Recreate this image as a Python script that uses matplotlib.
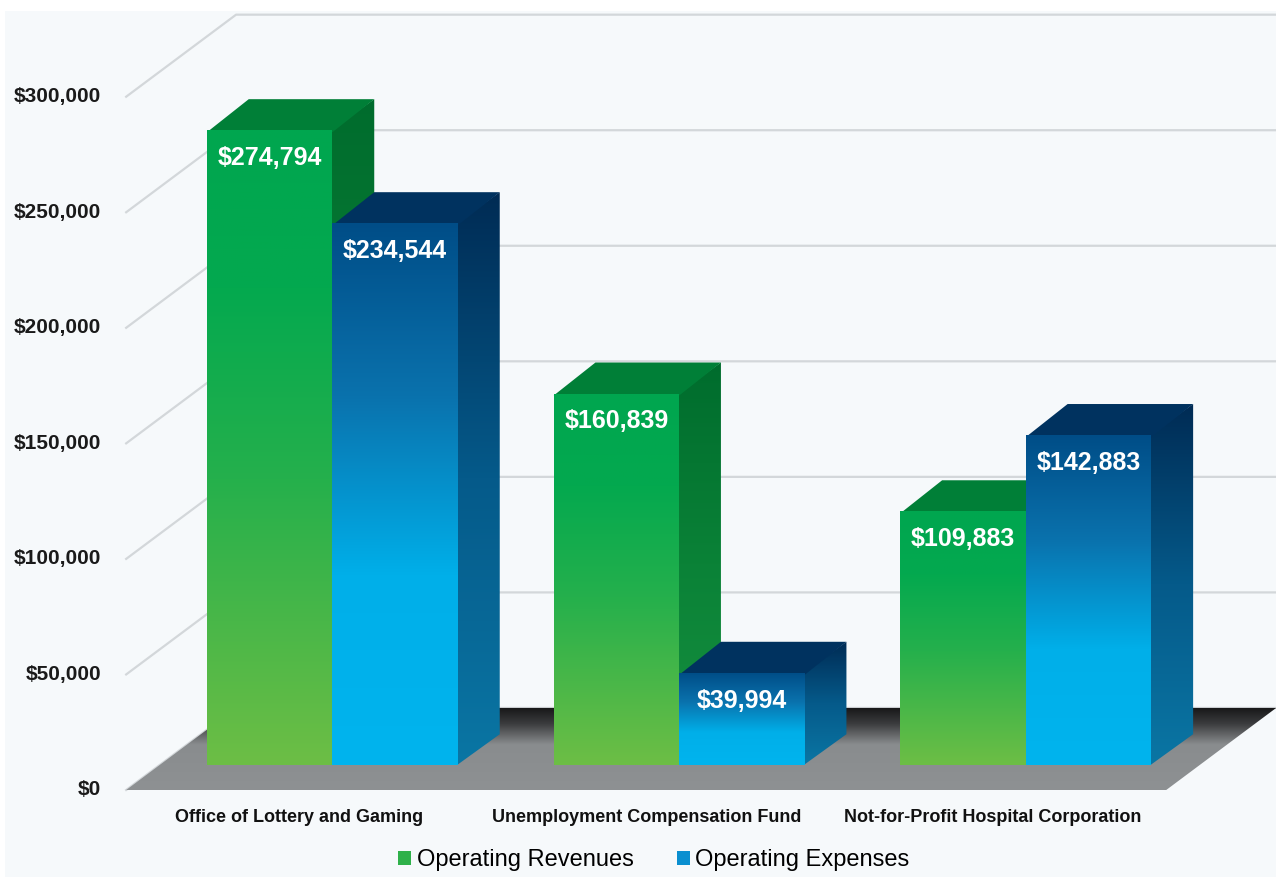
import numpy as np
import matplotlib.pyplot as plt
from matplotlib.patches import Polygon, Rectangle, Patch
from matplotlib.colors import LinearSegmentedColormap

categories = ['Office of Lottery and Gaming', 'Unemployment Compensation Fund',
              'Not-for-Profit Hospital Corporation']
revenues = [274794, 160839, 109883]
expenses = [234544, 39994, 142883]
yticks = [0, 50000, 100000, 150000, 200000, 250000, 300000]
series_names = ['Operating Revenues', 'Operating Expenses']

plt.rcParams['font.family'] = ['Liberation Sans Narrow', 'Liberation Sans', 'DejaVu Sans']

# oblique "3d" look: one unit of depth shifts right (categories) and up (dollars)
DX = 0.317
DV = 35500
BAR_W = 0.362
D0, D1 = 0.30, 0.68   # front / back of the bars inside the floor
EPS = 0.004           # small overlap so faces don't leave seams

green_front = LinearSegmentedColormap.from_list(
    'gf', [(0, '#6dbe45'), (0.45, '#25b04c'), (0.75, '#04a94f'), (1, '#00a64f')])
green_side = LinearSegmentedColormap.from_list('gs', ['#17903f', '#0a8237', '#006c2d'])
blue_front = LinearSegmentedColormap.from_list(
    'bf', [(0, '#00b4ee'), (0.35, '#00afe9'), (0.68, '#0a72ad'), (1, '#004d87')])
blue_side = LinearSegmentedColormap.from_list('bs', ['#0a76a4', '#055a8a', '#002b54'])
floor_cmap = LinearSegmentedColormap.from_list(
    'fl', [(0, '#8e9193'), (0.55, '#898c8e'), (0.8, '#3b3c3e'), (1, '#161617')])


def proj(x, v, d):
    return (x + d * DX, v + d * DV)


def grad_face(ax, verts, cmap, vlo, vhi, z):
    poly = Polygon(verts, closed=True, facecolor='none', edgecolor='none', zorder=z)
    ax.add_patch(poly)
    xs = [p[0] for p in verts]
    grad = np.linspace(0, 1, 256).reshape(-1, 1)
    im = ax.imshow(grad, cmap=cmap, origin='lower', aspect='auto', interpolation='bilinear',
                   extent=(min(xs), max(xs), vlo, vhi), zorder=z)
    im.set_clip_path(poly)


def bar3d(ax, x0, x1, v, front, side, top, z):
    # side and top first, the front face goes on top of their inner edges
    grad_face(ax, [proj(x1 - EPS, 0, D0), proj(x1, 0, D1), proj(x1, v, D1), proj(x1 - EPS, v, D0)],
              side, D0 * DV, v + D1 * DV, z)
    ax.add_patch(Polygon([proj(x0, v - 800, D0), proj(x1, v - 800, D0),
                          proj(x1, v, D1), proj(x0, v, D1)],
                         closed=True, facecolor=top, edgecolor='none', zorder=z + 0.1))
    grad_face(ax, [proj(x0, 0, D0), proj(x1, 0, D0), proj(x1, v, D0), proj(x0, v, D0)],
              front, D0 * DV, v + D0 * DV, z + 0.2)


fig = plt.figure(figsize=(12.76, 8.77), dpi=100, facecolor='white')
fig.add_artist(Rectangle((5 / 1276, 0), 1, 1 - 11 / 877, transform=fig.transFigure,
                         facecolor='#f6f9fb', edgecolor='none', zorder=-10))
ax = fig.add_axes([0, 0, 1, 1])
ax.set_facecolor('none')
ax.set_axis_off()

x_left, x_right = -0.8639, 2.8166
n = len(categories)

# gridlines: diagonal on the side, horizontal on the back wall
for t in yticks:
    p0 = proj(-0.5, t, 0)
    p1 = proj(-0.5, t, 1)
    ax.plot([p0[0], p1[0], x_right], [p0[1], p1[1], p1[1]], color='#d3d7da', lw=1.6, zorder=1)
    ax.annotate(f'${t:,}', xy=p0, xytext=(-18, 0), textcoords='offset points',
                ha='right', va='center', fontsize=15, fontweight='bold', color='#1a1a1a')

# floor
floor = [proj(-0.5, 0, 0), proj(n - 0.5, 0, 0), proj(n - 0.5, 0, 1), proj(-0.5, 0, 1)]
grad_face(ax, floor, floor_cmap, 0, DV, 2)

z = 3
for i in range(n):
    bar3d(ax, i - BAR_W, i, revenues[i], green_front, green_side, '#007f37', z)
    bar3d(ax, i, i + BAR_W, expenses[i], blue_front, blue_side, '#00325f', z + 1)
    z += 2
    for x0, v in [(i - BAR_W, revenues[i]), (i, expenses[i])]:
        ax.annotate(f'${v:,}', xy=proj(x0 + BAR_W / 2, v, D0), xytext=(0, -20),
                    textcoords='offset points', ha='center', va='center', color='white',
                    fontsize=18, fontweight='bold', zorder=20)
    ax.annotate(categories[i], xy=(i, 0), xytext=(0, -20), textcoords='offset points',
                ha='center', va='center', fontsize=13, fontweight='bold', color='#111111')

ax.set_xlim(x_left, x_right)
ax.set_ylim(-37650, 341850)

handles = [Patch(facecolor='#2fb14a', edgecolor='none'),
           Patch(facecolor='#0a8fd0', edgecolor='none')]
fig.legend(handles, series_names, loc='center', bbox_to_anchor=(654 / 1276, 1 - 860 / 877),
           ncol=2, frameon=False, handlelength=0.55, handleheight=0.55, handletextpad=0.25,
           columnspacing=1.8, prop={'family': 'Liberation Sans', 'size': 17})

fig.savefig('out.png', dpi=100, facecolor=fig.get_facecolor())
